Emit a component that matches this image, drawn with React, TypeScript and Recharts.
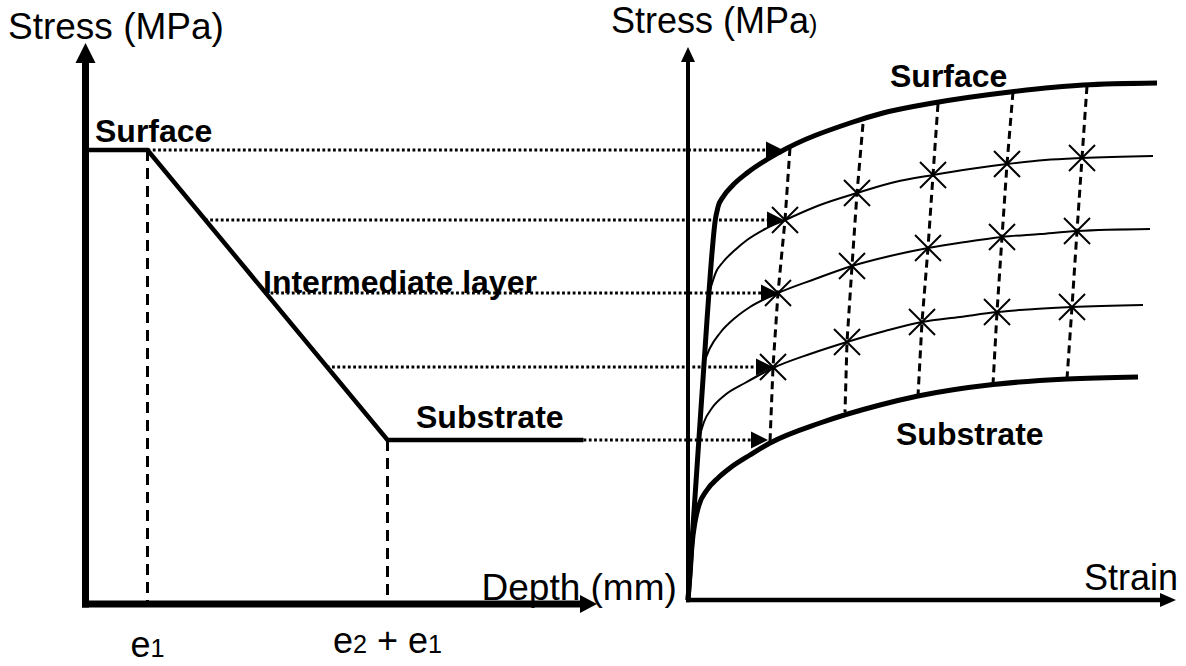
import React from "react";
import { ComposedChart, Line, Scatter, XAxis, YAxis } from "recharts";

const CHART_W = 1186;
const CHART_H = 666;
const FONT = "'Liberation Sans', Arial, Helvetica, sans-serif";

// ---- scales: one plotting area, two horizontal scales (depth on the left, strain on the right)
const DEPTH_DOMAIN: [number, number] = [-0.4275, 5.5025]; // mm
const STRAIN_DOMAIN: [number, number] = [-6.88, 4.98]; // %
const STRESS_DOMAIN: [number, number] = [-132, 1200]; // MPa

// ---- left panel: stress vs depth profile
const profileDepth = [0, 0.31, 1.51, 2.49];
const profileStress = [900, 900, 320, 320];
const tickDepth = [0.31, 1.51];
const tickBaseline = [-114, -106];
const tickLabels = ["e_1", "e_2 + e_1"];
const leftAxisOriginStress = -8;
const leftAxisTopStress = 1114;
const depthAxisEnd = 2.5575;

// ---- connectors (same stress level: profile -> stress-strain curve)
const connectorStress = [900, 760, 614, 466, 320];
const connectorStartDepth = [0.31, 0.597, 0.899, 1.206, 2.49];
const connectorEndStrain = [0.95, 0.96, 0.9, 0.85, 0.8];

// ---- right panel: stress-strain curves
const surfaceStrain = [0, 0.19, 0.24, 0.27, 0.3, 0.35, 0.45, 0.59, 0.92, 1.62, 1.95, 2.45, 3.22, 3.95, 4.69];
const surfaceStress = [0, 560, 694, 756, 786, 806, 830, 854, 896, 954, 974, 994, 1016, 1030, 1034];
const layer1Strain = [0.22, 0.28, 0.35, 0.47, 0.59, 0.77, 0.97, 1.32, 1.69, 2.07, 2.45, 2.82, 3.19, 3.57, 3.94, 4.65];
const layer1Stress = [620, 656, 676, 700, 720, 742, 760, 790, 814, 836, 850, 862, 872, 880, 884, 888];
const layer2Strain = [0.17, 0.22, 0.32, 0.47, 0.62, 0.9, 1.27, 1.64, 2.02, 2.4, 2.77, 3.14, 3.52, 3.89, 4.62];
const layer2Stress = [480, 504, 534, 564, 586, 614, 642, 668, 688, 704, 716, 726, 732, 738, 742];
const layer3Strain = [0.12, 0.16, 0.24, 0.37, 0.57, 0.85, 1.22, 1.59, 1.97, 2.34, 2.72, 3.09, 3.47, 3.84, 4.55];
const layer3Stress = [330, 356, 384, 410, 434, 464, 492, 516, 538, 556, 566, 576, 582, 586, 590];
const substrateStrain = [0, 0.02, 0.04, 0.07, 0.11, 0.19, 0.3, 0.42, 0.62, 0.82, 1.32, 1.92, 2.3, 3.05, 3.79, 4.5];
const substrateStress = [0, 50, 110, 156, 190, 220, 244, 264, 290, 314, 354, 390, 408, 431, 442, 446];

// iso-strain (dashed) columns, top (surface) to bottom (substrate)
const columnStrain = [
  [1.02, 0.97, 0.9, 0.85, 0.82],
  [1.75, 1.69, 1.64, 1.59, 1.57],
  [2.5, 2.45, 2.4, 2.34, 2.3],
  [3.25, 3.19, 3.14, 3.09, 3.05],
  [3.99, 3.94, 3.89, 3.84, 3.79],
];
const columnStress = [
  [904, 760, 614, 466, 316],
  [952, 814, 668, 516, 376],
  [992, 850, 704, 556, 408],
  [1016, 872, 726, 576, 431],
  [1028, 884, 738, 586, 442],
];
const rightAxisOriginStress = 0;
const rightAxisTopStress = 1106;
const strainAxisEnd = 4.88;

// ---- labels
const leftTitles = ["Stress (MPa)", "Depth (mm)"];
const leftTitleDepth = [-0.3875, 1.98];
const leftTitleStress = [1122, 0];
const leftLayerLabels = ["Surface", "Intermediate layer", "Substrate"];
const leftLayerDepth = [0.0475, 0.8875, 1.6525];
const leftLayerStress = [916, 614, 344];
const rightTitles = ["Stress (MPa_)", "Strain"];
const rightTitleStrain = [-0.77, 3.96];
const rightTitleStress = [1134, 20];
const rightLayerLabels = ["Surface", "Substrate"];
const rightLayerStrain = [2.02, 2.08];
const rightLayerStress = [1026, 310];

type P = { x: number; y: number; label?: string };
const pts = (xs: number[], ys: number[]): P[] => xs.map((x, i) => ({ x, y: ys[i] }));
const labelPts = (labels: string[], xs: number[], ys: number[]): P[] =>
  labels.map((label, i) => ({ x: xs[i], y: ys[i], label }));

const strainToDepth = (e: number) =>
  DEPTH_DOMAIN[0] +
  ((e - STRAIN_DOMAIN[0]) / (STRAIN_DOMAIN[1] - STRAIN_DOMAIN[0])) * (DEPTH_DOMAIN[1] - DEPTH_DOMAIN[0]);

// ---- derived series
const profileData = pts(profileDepth, profileStress);
const tickLineData = tickDepth.map((d, i) => [
  { x: d, y: profileStress[i === 0 ? 1 : 2] },
  { x: d, y: leftAxisOriginStress },
]);
const leftYAxisData = [
  { x: 0, y: leftAxisOriginStress - 7 },
  { x: 0, y: leftAxisTopStress - 36 },
];
const leftXAxisData = [
  { x: -0.0175, y: leftAxisOriginStress },
  { x: depthAxisEnd - 0.08, y: leftAxisOriginStress },
];
const leftArrowUp = [{ x: 0, y: leftAxisTopStress }];
const leftArrowRight = [{ x: depthAxisEnd, y: leftAxisOriginStress }];
const connectorData = connectorStress.map((s, i) => [
  { x: connectorStartDepth[i], y: s },
  { x: strainToDepth(connectorEndStrain[i]) - 0.04, y: s },
]);
const connectorArrows = pts(connectorEndStrain, connectorStress);

const rightYAxisData = [
  { x: 0, y: rightAxisOriginStress - 4.5 },
  { x: 0, y: rightAxisTopStress - 28 },
];
const rightXAxisData = [
  { x: -0.02, y: rightAxisOriginStress },
  { x: strainAxisEnd - 0.14, y: rightAxisOriginStress },
];
const rightArrowUp = [{ x: 0, y: rightAxisTopStress }];
const rightArrowRight = [{ x: strainAxisEnd, y: rightAxisOriginStress }];

const thickCurves = [pts(surfaceStrain, surfaceStress), pts(substrateStrain, substrateStress)];
const thinCurves = [
  pts(layer1Strain, layer1Stress),
  pts(layer2Strain, layer2Stress),
  pts(layer3Strain, layer3Stress),
];
const columnData = columnStrain.map((xs, i) => pts(xs, columnStress[i]));
const crossData: P[] = columnData.flatMap((c) => c.slice(1, 4));

const tickLabelData = labelPts(tickLabels, tickDepth, tickBaseline);
const leftTitleData = labelPts(leftTitles, leftTitleDepth, leftTitleStress);
const leftLayerData = labelPts(leftLayerLabels, leftLayerDepth, leftLayerStress);
const rightTitleData = labelPts(rightTitles, rightTitleStrain, rightTitleStress);
const rightLayerData = labelPts(rightLayerLabels, rightLayerStrain, rightLayerStress);

// ---- shapes
function RichText(props: {
  x: number;
  y: number;
  text: string;
  size: number;
  weight?: string | number;
  anchor?: "start" | "middle" | "end";
}) {
  const { x, y, text, size, weight = "normal", anchor = "start" } = props;
  const parts: { t: string; small: boolean }[] = [];
  let buf = "";
  for (let i = 0; i < text.length; i++) {
    if (text[i] === "_" && i + 1 < text.length) {
      if (buf) parts.push({ t: buf, small: false });
      buf = "";
      parts.push({ t: text[i + 1], small: true });
      i++;
    } else buf += text[i];
  }
  if (buf) parts.push({ t: buf, small: false });
  return (
    <text
      x={x}
      y={y}
      fontFamily={FONT}
      fontSize={size}
      fontWeight={weight}
      textAnchor={anchor}
      fill="#000"
      style={{ whiteSpace: "pre" }}
    >
      {parts.map((p, i) => (
        <tspan key={i} fontSize={p.small ? size * 0.7 : size}>
          {p.t}
        </tspan>
      ))}
    </text>
  );
}

const textShape =
  (size: number, weight: string | number, anchor: "start" | "middle" | "end") => (p: any) =>
    <RichText x={p.cx} y={p.cy} text={p.payload.label} size={size} weight={weight} anchor={anchor} />;

const arrowUpShape = (len: number, half: number) => (p: any) => {
  const { cx, cy } = p;
  return <polygon points={`${cx},${cy} ${cx - half},${cy + len} ${cx + half},${cy + len}`} fill="#000" />;
};
const arrowRightShape = (len: number, half: number) => (p: any) => {
  const { cx, cy } = p;
  return <polygon points={`${cx},${cy} ${cx - len},${cy - half} ${cx - len},${cy + half}`} fill="#000" />;
};
const crossShape = (half: number) => (p: any) => {
  const { cx, cy } = p;
  return (
    <g stroke="#000" strokeWidth={2}>
      <line x1={cx - half} y1={cy - half} x2={cx + half} y2={cy + half} />
      <line x1={cx - half} y1={cy + half} x2={cx + half} y2={cy - half} />
    </g>
  );
};

const lineCommon = {
  dataKey: "y",
  dot: false,
  activeDot: false,
  isAnimationActive: false,
  stroke: "#000",
  legendType: "none" as const,
};

export default function App() {
  return (
    <div style={{ position: "absolute", left: 0, top: 0, background: "#fff" }}>
      <ComposedChart width={CHART_W} height={CHART_H} margin={{ top: 0, right: 0, bottom: 0, left: 0 }}>
        <XAxis xAxisId="depth" type="number" dataKey="x" domain={DEPTH_DOMAIN} allowDataOverflow hide />
        <XAxis xAxisId="strain" type="number" dataKey="x" domain={STRAIN_DOMAIN} allowDataOverflow hide />
        <YAxis type="number" dataKey="y" domain={STRESS_DOMAIN} allowDataOverflow hide />

        {/* left panel */}
        {tickLineData.map((d, i) => (
          <Line key={`tick-${i}`} {...lineCommon} xAxisId="depth" data={d} type="linear" strokeWidth={3} strokeDasharray="11 7" />
        ))}
        {connectorData.map((d, i) => (
          <Line key={`conn-${i}`} {...lineCommon} xAxisId="depth" data={d} type="linear" strokeWidth={2.8} strokeDasharray="2.8 2.5" />
        ))}
        <Line {...lineCommon} xAxisId="depth" data={profileData} type="linear" strokeWidth={4.5} />
        <Line {...lineCommon} xAxisId="depth" data={leftYAxisData} type="linear" strokeWidth={7} />
        <Line {...lineCommon} xAxisId="depth" data={leftXAxisData} type="linear" strokeWidth={7} />
        <Scatter xAxisId="depth" data={leftArrowUp} shape={arrowUpShape(20, 10)} isAnimationActive={false} />
        <Scatter xAxisId="depth" data={leftArrowRight} shape={arrowRightShape(17, 9)} isAnimationActive={false} />

        {/* right panel */}
        {columnData.map((d, i) => (
          <Line key={`col-${i}`} {...lineCommon} xAxisId="strain" data={d} type="linear" strokeWidth={3} strokeDasharray="8 5" />
        ))}
        {thinCurves.map((d, i) => (
          <Line key={`thin-${i}`} {...lineCommon} xAxisId="strain" data={d} type="monotone" strokeWidth={2} />
        ))}
        {thickCurves.map((d, i) => (
          <Line key={`thick-${i}`} {...lineCommon} xAxisId="strain" data={d} type="monotone" strokeWidth={5} />
        ))}
        <Line {...lineCommon} xAxisId="strain" data={rightYAxisData} type="linear" strokeWidth={4} />
        <Line {...lineCommon} xAxisId="strain" data={rightXAxisData} type="linear" strokeWidth={4.5} />
        <Scatter xAxisId="strain" data={rightArrowUp} shape={arrowUpShape(15, 7)} isAnimationActive={false} />
        <Scatter xAxisId="strain" data={rightArrowRight} shape={arrowRightShape(16, 7)} isAnimationActive={false} />
        <Scatter xAxisId="strain" data={connectorArrows} shape={arrowRightShape(17, 8.5)} isAnimationActive={false} />
        <Scatter xAxisId="strain" data={crossData} shape={crossShape(13)} isAnimationActive={false} />

        {/* text */}
        <Scatter xAxisId="depth" data={leftTitleData} shape={textShape(37, "normal", "start")} isAnimationActive={false} />
        <Scatter xAxisId="depth" data={leftLayerData} shape={textShape(32, "bold", "start")} isAnimationActive={false} />
        <Scatter xAxisId="depth" data={tickLabelData} shape={textShape(36, "normal", "middle")} isAnimationActive={false} />
        <Scatter xAxisId="strain" data={rightTitleData} shape={textShape(36, "normal", "start")} isAnimationActive={false} />
        <Scatter xAxisId="strain" data={rightLayerData} shape={textShape(32, "bold", "start")} isAnimationActive={false} />
      </ComposedChart>
    </div>
  );
}
